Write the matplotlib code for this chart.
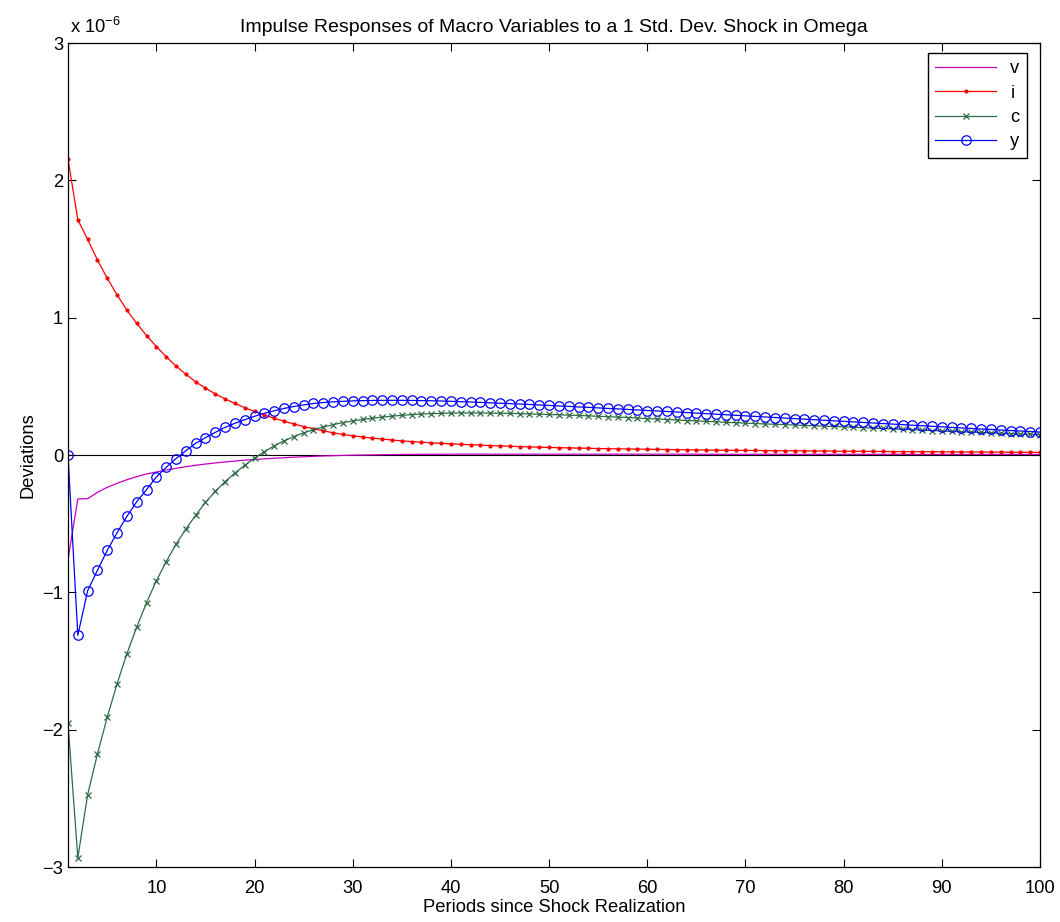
import numpy as np
import matplotlib
matplotlib.use('Agg')
import matplotlib.pyplot as plt

plt.rcParams['font.family'] = ['Liberation Sans', 'DejaVu Sans']
plt.rcParams['mathtext.default'] = 'regular'

# impulse responses, in units of 1e-6, periods 1..100
periods = np.arange(1, 101)

v_resp = [-0.762, -0.320, -0.318, -0.272, -0.235, -0.206, -0.180, -0.158, -0.138, -0.124,
          -0.109, -0.097, -0.085, -0.075, -0.066, -0.058, -0.051, -0.044, -0.038, -0.033,
          -0.028, -0.024, -0.020, -0.016, -0.013, -0.010, -0.007, -0.005, -0.003, -0.001,
          0.000, 0.001, 0.002, 0.003, 0.004, 0.004, 0.005, 0.005, 0.005, 0.006,
          0.006, 0.006, 0.006, 0.006, 0.006, 0.006, 0.006, 0.006, 0.006, 0.006,
          0.006, 0.006, 0.006, 0.006, 0.006, 0.006, 0.006, 0.006, 0.006, 0.006,
          0.006, 0.006, 0.006, 0.006, 0.006, 0.005, 0.005, 0.005, 0.005, 0.005,
          0.005, 0.005, 0.005, 0.005, 0.005, 0.005, 0.005, 0.005, 0.005, 0.005,
          0.005, 0.005, 0.005, 0.005, 0.005, 0.005, 0.004, 0.004, 0.004, 0.004,
          0.004, 0.004, 0.004, 0.004, 0.004, 0.004, 0.004, 0.004, 0.004, 0.004]

i_resp = [2.156, 1.713, 1.570, 1.420, 1.287, 1.166, 1.055, 0.958, 0.870, 0.790,
          0.716, 0.648, 0.588, 0.533, 0.487, 0.445, 0.409, 0.375, 0.345, 0.317,
          0.292, 0.268, 0.246, 0.226, 0.207, 0.191, 0.176, 0.162, 0.150, 0.140,
          0.131, 0.123, 0.116, 0.109, 0.103, 0.098, 0.093, 0.089, 0.085, 0.081,
          0.078, 0.075, 0.072, 0.069, 0.066, 0.064, 0.061, 0.059, 0.057, 0.055,
          0.053, 0.052, 0.050, 0.049, 0.047, 0.046, 0.045, 0.044, 0.043, 0.042,
          0.041, 0.040, 0.039, 0.038, 0.037, 0.036, 0.035, 0.035, 0.034, 0.033,
          0.033, 0.032, 0.031, 0.031, 0.030, 0.030, 0.029, 0.029, 0.028, 0.028,
          0.027, 0.027, 0.026, 0.026, 0.025, 0.025, 0.024, 0.024, 0.024, 0.023,
          0.023, 0.022, 0.022, 0.022, 0.021, 0.021, 0.020, 0.020, 0.020, 0.019]

c_resp = [-1.954, -2.934, -2.473, -2.177, -1.908, -1.665, -1.447, -1.252, -1.075, -0.915,
          -0.777, -0.650, -0.539, -0.439, -0.345, -0.265, -0.194, -0.131, -0.075, -0.022,
          0.025, 0.066, 0.102, 0.134, 0.161, 0.184, 0.204, 0.221, 0.236, 0.248,
          0.259, 0.268, 0.276, 0.283, 0.289, 0.294, 0.298, 0.301, 0.303, 0.305,
          0.306, 0.306, 0.306, 0.305, 0.304, 0.303, 0.301, 0.299, 0.297, 0.295,
          0.293, 0.290, 0.288, 0.285, 0.282, 0.279, 0.276, 0.273, 0.269, 0.265,
          0.262, 0.258, 0.255, 0.251, 0.248, 0.245, 0.242, 0.238, 0.235, 0.232,
          0.229, 0.226, 0.224, 0.221, 0.218, 0.215, 0.213, 0.210, 0.208, 0.205,
          0.202, 0.199, 0.196, 0.193, 0.190, 0.187, 0.184, 0.181, 0.178, 0.175,
          0.172, 0.169, 0.167, 0.164, 0.161, 0.158, 0.156, 0.153, 0.151, 0.148]

y_resp = [0.000, -1.313, -0.988, -0.840, -0.694, -0.566, -0.447, -0.340, -0.252, -0.160,
          -0.090, -0.026, 0.031, 0.085, 0.126, 0.165, 0.201, 0.231, 0.257, 0.282,
          0.304, 0.322, 0.339, 0.353, 0.365, 0.375, 0.382, 0.387, 0.391, 0.394,
          0.396, 0.397, 0.398, 0.398, 0.398, 0.397, 0.396, 0.395, 0.393, 0.391,
          0.388, 0.386, 0.383, 0.380, 0.377, 0.374, 0.371, 0.368, 0.364, 0.361,
          0.357, 0.354, 0.350, 0.347, 0.343, 0.339, 0.336, 0.332, 0.328, 0.324,
          0.321, 0.317, 0.313, 0.309, 0.305, 0.301, 0.297, 0.293, 0.289, 0.285,
          0.281, 0.277, 0.273, 0.269, 0.265, 0.261, 0.257, 0.253, 0.249, 0.245,
          0.241, 0.237, 0.233, 0.229, 0.225, 0.221, 0.217, 0.213, 0.209, 0.205,
          0.201, 0.197, 0.193, 0.189, 0.186, 0.182, 0.178, 0.175, 0.171, 0.167]

fig = plt.figure(figsize=(10.6, 9.22), dpi=100)
ax = fig.add_axes([68/1060, 55/922, 972/1060, 824/922])

ax.axhline(0, color='k', lw=0.8, zorder=1)
ax.plot(periods, v_resp, color='#C000C0', lw=0.9, label='v')
ax.plot(periods, i_resp, color='#FF0000', lw=0.9, marker='.', ms=4, label='i')
ax.plot(periods, c_resp, color='#2F6B47', lw=0.9, marker='x', ms=4, mew=0.9, label='c')
ax.plot(periods, y_resp, color='#0000FF', lw=0.9, marker='o', ms=6.8, mfc='none', mew=0.9, label='y')

ax.set_xlim(1, 100)
ax.set_ylim(-3, 3)
ax.set_xticks(np.arange(10, 101, 10))
ax.set_yticks(np.arange(-3, 4, 1))
ax.tick_params(direction='in', length=6, width=0.8, top=True, right=True, labelsize=13.2)
ax.tick_params(axis='x', pad=9)
for s in ax.spines.values():
    s.set_linewidth(0.9)

ax.set_title('Impulse Responses of Macro Variables to a 1 Std. Dev. Shock in Omega', fontsize=14, pad=8)
ax.set_xlabel('Periods since Shock Realization', fontsize=13.2, labelpad=2)
ax.set_ylabel('Deviations', fontsize=13.2, labelpad=4)
fig.text(70/1060, 1 - 33/922, r'x 10$^{-6}$', fontsize=13.2)

ax.legend(loc='upper right', bbox_to_anchor=(1027/1060, 1 - 53/922), bbox_transform=fig.transFigure,
          borderaxespad=0, fancybox=False, framealpha=1, edgecolor='k', fontsize=13.2,
          handlelength=3.3, labelspacing=0.4, markerfirst=True)

fig.savefig('out.png', dpi=100)
